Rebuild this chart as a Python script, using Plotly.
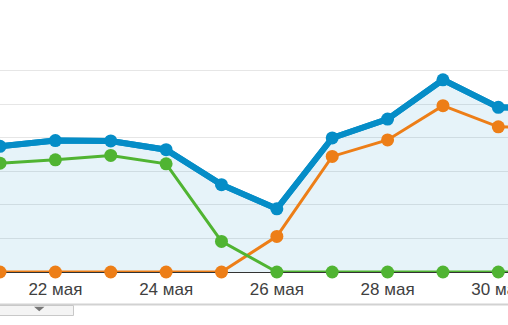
import plotly.graph_objects as go

# Days of May shown on the timeline
days = [21, 22, 23, 24, 25, 26, 27, 28, 29, 30, 31]
tick_days = [22, 24, 26, 28, 30]
tick_labels = ["22 мая", "24 мая", "26 мая", "28 мая", "30 мая"]

# Series values
total = [3.74, 3.91, 3.90, 3.64, 2.60, 1.88, 3.99, 4.55, 5.72, 4.90, 4.88]
orange_vals = [0, 0, 0, 0, 0, 1.06, 3.44, 3.93, 4.95, 4.32, 4.30]
green_vals = [3.24, 3.34, 3.47, 3.22, 0.91, 0, 0, 0, 0, 0, 0]

BLUE = "#058dc7"
ORANGE = "#ed7e17"
GREEN = "#50b432"

W, H = 508, 325
PLOT_H = 272           # plot area height in px (top margin 0)
PX_PER_DAY = 55.37
PX_PER_UNIT = 33.6


def py(y_px):
    """Pixel row -> paper y coordinate."""
    return (PLOT_H - y_px) / PLOT_H


def px(x_px):
    return x_px / W


fig = go.Figure()

fig.add_trace(go.Scatter(
    x=days, y=total, mode="lines",
    fill="tozeroy", fillcolor="rgba(5,141,199,0.10)",
    line=dict(color=BLUE, width=6),
    hoverinfo="skip",
))
fig.add_trace(go.Scatter(
    x=days, y=orange_vals, mode="lines+markers",
    line=dict(color=ORANGE, width=3),
    marker=dict(color=ORANGE, size=13),
    cliponaxis=False, hoverinfo="skip",
))
fig.add_trace(go.Scatter(
    x=days, y=green_vals, mode="lines+markers",
    line=dict(color=GREEN, width=3),
    marker=dict(color=GREEN, size=13),
    cliponaxis=False, hoverinfo="skip",
))
# main line on top
fig.add_trace(go.Scatter(
    x=days, y=total, mode="lines+markers",
    line=dict(color=BLUE, width=6),
    marker=dict(color=BLUE, size=13),
    cliponaxis=False, hoverinfo="skip",
))

shapes = [
    # bottom frame line
    dict(type="line", xref="paper", yref="paper",
         x0=0, x1=1, y0=py(304.5), y1=py(304.5),
         line=dict(color="#d2d2d2", width=2)),
    # dropdown tab
    dict(type="rect", xref="paper", yref="paper",
         x0=px(-1), x1=px(73.5), y0=py(305.5), y1=py(315.5),
         fillcolor="#f4f4f4", line=dict(color="#c8c8c8", width=1)),
    # dropdown arrow
    dict(type="path", xref="paper", yref="paper",
         path=f"M {px(34)},{py(306.8)} L {px(44.5)},{py(306.8)} L {px(39.25)},{py(311.2)} Z",
         fillcolor="#777777", line=dict(width=0)),
]

fig.update_layout(
    width=W, height=H,
    margin=dict(l=0, r=0, t=0, b=H - PLOT_H, pad=0, autoexpand=False),
    paper_bgcolor="white", plot_bgcolor="white",
    showlegend=False,
    shapes=shapes,
    xaxis=dict(
        range=[21, 21 + W / PX_PER_DAY],
        tickvals=tick_days, ticktext=tick_labels,
        ticklabeloverflow="allow",
        automargin=False,
        showgrid=False, zeroline=False,
        showline=True, linecolor="#333333", linewidth=1,
        layer="below traces",
        ticks="outside", ticklen=2, tickcolor="rgba(0,0,0,0)",
        tickfont=dict(family="Liberation Sans, Arial, sans-serif", size=17, color="#404040"),
        fixedrange=True,
    ),
    yaxis=dict(
        range=[0, PLOT_H / PX_PER_UNIT],
        tickvals=[1, 2, 3, 4, 5, 6],
        showticklabels=False,
        automargin=False,
        showgrid=True, gridcolor="#e6e6e6", gridwidth=1,
        zeroline=False, showline=False,
        fixedrange=True,
    ),
)

fig.write_html("out.html", config={"displayModeBar": False})
